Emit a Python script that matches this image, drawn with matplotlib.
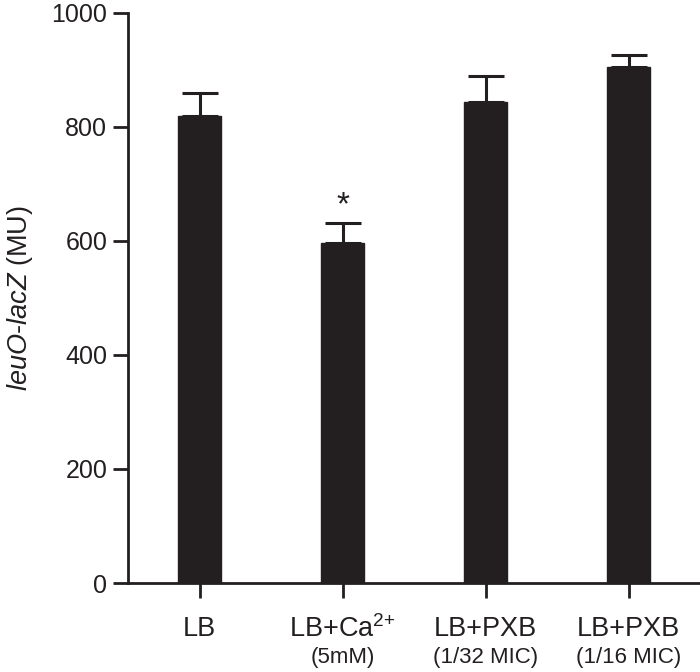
import matplotlib
matplotlib.use("Agg")
import matplotlib.pyplot as plt
import numpy as np

plt.rcParams['font.family'] = ['Liberation Sans', 'DejaVu Sans']
plt.rcParams['mathtext.fontset'] = 'custom'
plt.rcParams['mathtext.rm'] = 'Liberation Sans'
plt.rcParams['mathtext.it'] = 'Liberation Sans:italic'

categories = ["LB", "LB+Ca$^{2{+}}$", "LB+PXB", "LB+PXB"]
sublabels = ["", "(5mM)", "(1/32 MIC)", "(1/16 MIC)"]
values = [819, 597, 843, 905]
errors = [41, 34, 46, 21]
stars = ["", "*", "", ""]
yticks = [0, 200, 400, 600, 800, 1000]

color = "#231f20"
fig = plt.figure(figsize=(7.0, 6.72), dpi=100)
ax = fig.add_axes([0.183, 0.1324, 0.817, 0.8486])
x = np.arange(len(values))
ax.bar(x, values, width=0.3, color=color, edgecolor=color)
ax.errorbar(x, values, yerr=[np.zeros(len(errors)), errors], fmt='none',
            ecolor=color, elinewidth=2.2, capsize=13, capthick=2.2)
for xi, v, e, s in zip(x, values, errors, stars):
    if s:
        ax.text(xi, v + e + 4, s, ha='center', va='bottom', fontsize=24, color=color)

ax.set_xlim(-0.5, 3.5)
ax.set_ylim(0, 1000)
ax.set_yticks(yticks)
ax.set_yticklabels([str(t) for t in yticks], fontsize=18)
ax.set_xticks(x)
ax.set_xticklabels([""] * len(x))
for sp in ['top', 'right']:
    ax.spines[sp].set_visible(False)
for sp in ['left', 'bottom']:
    ax.spines[sp].set_linewidth(2.0)
    ax.spines[sp].set_color(color)
ax.tick_params(axis='both', length=11, width=2.0, color=color, labelcolor=color)
ax.tick_params(axis='y', pad=4)

trans = ax.get_xaxis_transform()
for xi, c, s in zip(x, categories, sublabels):
    ax.text(xi, -0.08, c, transform=trans, ha='center', va='center', fontsize=19.5, color=color)
    if s:
        ax.text(xi, -0.131, s, transform=trans, ha='center', va='center', fontsize=16, color=color)

ax.set_ylabel("$leuO$-$lacZ$ (MU)", fontsize=19.5, color=color, labelpad=12)

fig.savefig("out.png", dpi=100)
